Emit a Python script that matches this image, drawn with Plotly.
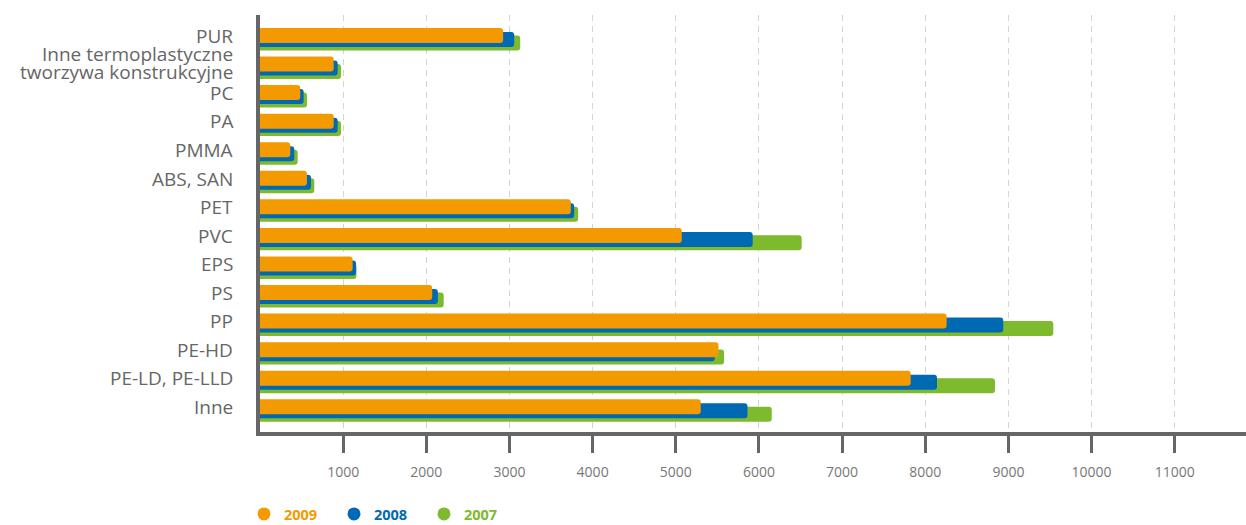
import plotly.graph_objects as go

categories = ["PUR", "Inne termoplastyczne\ntworzywa konstrukcyjne", "PC", "PA", "PMMA",
              "ABS, SAN", "PET", "PVC", "EPS", "PS", "PP", "PE-HD", "PE-LD, PE-LLD", "Inne"]
v2009 = [2924, 886, 484, 886, 364, 565, 3738, 5072, 1114, 2071, 8257, 5513, 7825, 5300]
v2008 = [3057, 934, 525, 934, 412, 613, 3778, 5925, 1155, 2139, 8938, 5469, 8141, 5862]
v2007 = [3129, 974, 565, 974, 453, 653, 3826, 6514, 1160, 2209, 9540, 5581, 8838, 6154]
xticks = [1000, 2000, 3000, 4000, 5000, 6000, 7000, 8000, 9000, 10000, 11000]

C09, C08, C07 = "#F39A00", "#0069B4", "#7DBA2D"
GREY = "#666666"
FONT = "Open Sans"

pos = list(range(len(categories)))
W = 0.525

fig = go.Figure()
for name, vals, col, off in [("2007", v2007, C07, -0.01), ("2008", v2008, C08, -0.13), ("2009", v2009, C09, -0.27)]:
    fig.add_trace(go.Bar(x=vals, y=pos, orientation="h", width=W, offset=off,
                         marker=dict(color=col, cornerradius=3, line=dict(width=0)),
                         showlegend=False, hoverinfo="x"))

for name, col in [("2009", C09), ("2008", C08), ("2007", C07)]:
    fig.add_trace(go.Scatter(x=[None], y=[None], mode="markers",
                             marker=dict(symbol="circle", size=13, color=col),
                             name=f"<b><span style='color:{col}'>{name}</span></b>"))

annotations = []
for i, cat in enumerate(categories):
    lines = cat.split("\n")
    shifts = [0] if len(lines) == 1 else [10, -8]
    for ln, sh in zip(lines, shifts):
        annotations.append(dict(text=ln, xref="paper", x=0, xanchor="right", xshift=-26,
                                yref="y", y=i, yanchor="middle", yshift=sh, showarrow=False,
                                borderpad=0,
                                font=dict(family=FONT, size=19, color=GREY)))

fig.update_layout(
    width=1246, height=525,
    margin=dict(l=260, r=0, t=15, b=93, autoexpand=False),
    barmode="overlay",
    plot_bgcolor="white", paper_bgcolor="white",
    annotations=annotations,
    legend=dict(orientation="h", xref="container", x=244 / 1246, xanchor="left",
                yref="container", y=11 / 525, yanchor="middle",
                font=dict(family=FONT, size=14.5), entrywidth=45, entrywidthmode="pixels",
                itemwidth=30, bgcolor="rgba(0,0,0,0)"),
    xaxis=dict(range=[0, 11857], tickvals=xticks, ticktext=[str(t) for t in xticks],
               ticks="outside", ticklen=17, tickwidth=3, tickcolor=GREY,
               showline=True, linecolor=GREY, linewidth=3.5,
               showgrid=True, gridcolor="#d4d4d4", gridwidth=1, griddash="6px,5px",
               zeroline=False, tickfont=dict(family=FONT, size=14, color="#777777"),
               ticklabelstandoff=7, automargin=False, fixedrange=True),
    yaxis=dict(range=[13.876, -0.725], tickvals=pos, showticklabels=False, ticks="",
               showline=True, linecolor=GREY, linewidth=3.5, showgrid=False, zeroline=False,
               automargin=False, fixedrange=True),
)

fig.write_html("out.html")
